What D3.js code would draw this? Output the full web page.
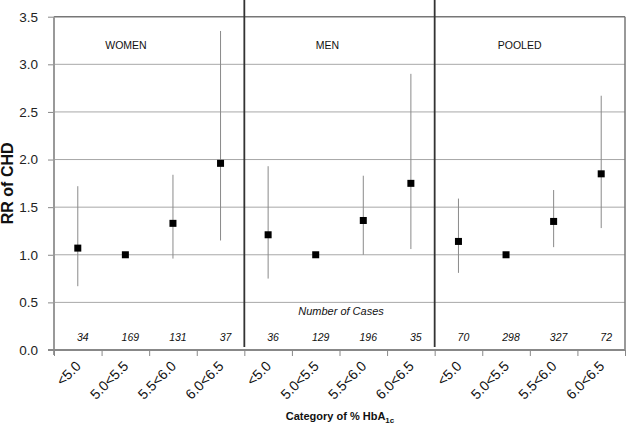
<!DOCTYPE html>
<html>
<head>
<meta charset="utf-8">
<script src="https://cdn.jsdelivr.net/npm/d3@7"></script>
<style>
  body { margin: 0; background: #fff; }
  svg { display: block; font-family: "Liberation Sans", Arial, sans-serif; }
</style>
</head>
<body>
<div id="chart"></div>
<script>
// data
const groups = ['WOMEN', 'MEN', 'POOLED'];
const categories = ['<5.0', '5.0<5.5', '5.5<6.0', '6.0<6.5'];
const rr = [
  [1.07, 1.00, 1.33, 1.96],
  [1.21, 1.00, 1.36, 1.75],
  [1.14, 1.00, 1.35, 1.85],
];
const ciLow = [
  [0.67, null, 0.96, 1.15],
  [0.75, null, 1.00, 1.06],
  [0.81, null, 1.08, 1.28],
];
const ciHigh = [
  [1.72, null, 1.84, 3.35],
  [1.93, null, 1.83, 2.90],
  [1.59, null, 1.68, 2.67],
];
const cases = [
  [34, 169, 131, 37],
  [36, 129, 196, 35],
  [70, 298, 327, 72],
];
const yTicks = [0, 0.5, 1.0, 1.5, 2.0, 2.5, 3.0, 3.5];

const W = 626, H = 424;
const mLeft = 54, mRight = 625, mTop = 16.7, mBottom = 350;

const rows = [];
groups.forEach((g, gi) => categories.forEach((c, ci) => {
  rows.push({ key: g + '|' + c, group: g, gi, cat: c, rr: rr[gi][ci], lo: ciLow[gi][ci], hi: ciHigh[gi][ci], n: cases[gi][ci] });
}));

const x = d3.scaleBand().domain(rows.map(d => d.key)).range([mLeft, mRight]).padding(0);
const xi = d3.scaleLinear().domain([0, rows.length]).range([mLeft, mRight]);
const y = d3.scaleLinear().domain([0, 3.5]).range([mBottom, mTop]);

const svg = d3.select('#chart').append('svg').attr('width', W).attr('height', H);

// gridlines
svg.append('g').selectAll('line').data(yTicks.slice(1, -1)).enter().append('line')
  .attr('x1', mLeft).attr('x2', mRight)
  .attr('y1', d => y(d)).attr('y2', d => y(d))
  .attr('stroke', '#a8a8a8').attr('stroke-width', 1);

// top and right border
svg.append('line').attr('x1', mLeft).attr('x2', mRight).attr('y1', y(3.5)).attr('y2', y(3.5))
  .attr('stroke', '#777').attr('stroke-width', 1.5);
svg.append('line').attr('x1', mRight).attr('x2', mRight).attr('y1', y(3.5)).attr('y2', y(0))
  .attr('stroke', '#777').attr('stroke-width', 1.5);

// y axis
const yAxis = svg.append('g').attr('transform', `translate(${mLeft},0)`)
  .call(d3.axisLeft(y).tickValues(yTicks).tickFormat(d3.format('.1f')).tickSize(6).tickPadding(10));
yAxis.select('.domain').remove();
yAxis.selectAll('.tick line').attr('stroke', '#888');
yAxis.selectAll('.tick text').attr('font-size', 13.5).attr('fill', '#222').attr('font-family', 'Liberation Sans, Arial, sans-serif');
svg.append('line').attr('x1', mLeft).attr('x2', mLeft).attr('y1', y(3.5)).attr('y2', y(0) + 5)
  .attr('stroke', '#999').attr('stroke-width', 2);

// x axis with ticks on category boundaries
const xAxis = svg.append('g').attr('transform', `translate(0,${mBottom})`)
  .call(d3.axisBottom(xi).tickValues(d3.range(rows.length + 1)).tickFormat('').tickSize(6));
xAxis.select('.domain').remove();
xAxis.selectAll('.tick line').attr('stroke', '#888');
svg.append('line').attr('x1', mLeft - 6).attr('x2', mRight).attr('y1', mBottom).attr('y2', mBottom)
  .attr('stroke', '#888').attr('stroke-width', 2);

// panel dividers
svg.append('g').selectAll('line').data(d3.range(1, groups.length)).enter().append('line')
  .attr('x1', d => xi(d * categories.length)).attr('x2', d => xi(d * categories.length))
  .attr('y1', 0).attr('y2', mBottom - 3)
  .attr('stroke', '#333').attr('stroke-width', 1.8);

// x tick labels
svg.append('g').selectAll('text').data(rows).enter().append('text')
  .attr('transform', d => `translate(${x(d.key) + x.bandwidth() / 2 + 4},${mBottom + 17}) rotate(-45)`)
  .attr('text-anchor', 'end')
  .attr('font-size', 14).attr('fill', '#111')
  .text(d => d.cat);

// panel labels
svg.append('g').selectAll('text').data(groups).enter().append('text')
  .attr('x', (d, i) => xi(i * categories.length) + [72, 83, 85][i])
  .attr('y', 49)
  .attr('text-anchor', 'middle').attr('font-size', 10.5).attr('fill', '#111')
  .text(d => d);

// number of cases
svg.append('text').attr('x', 341).attr('y', 315).attr('text-anchor', 'middle')
  .attr('font-size', 11).attr('font-style', 'italic').attr('fill', '#111')
  .text('Number of Cases');
svg.append('g').selectAll('text').data(rows).enter().append('text')
  .attr('x', d => x(d.key) + x.bandwidth() / 2 + 5)
  .attr('y', 340.5)
  .attr('text-anchor', 'middle').attr('font-size', 10.5).attr('font-style', 'italic').attr('fill', '#111')
  .text(d => d.n);

// error bars
svg.append('g').selectAll('line').data(rows.filter(d => d.lo != null)).enter().append('line')
  .attr('x1', d => x(d.key) + x.bandwidth() / 2).attr('x2', d => x(d.key) + x.bandwidth() / 2)
  .attr('y1', d => y(d.hi)).attr('y2', d => y(d.lo))
  .attr('stroke', '#8a8a8a').attr('stroke-width', 1);

// points
const s = 7;
svg.append('g').selectAll('rect').data(rows).enter().append('rect')
  .attr('x', d => x(d.key) + x.bandwidth() / 2 - s / 2)
  .attr('y', d => y(d.rr) - s / 2)
  .attr('width', s).attr('height', s)
  .attr('fill', '#000');

// axis titles
svg.append('text')
  .attr('transform', `translate(13,${(mTop + mBottom) / 2}) rotate(-90)`)
  .attr('text-anchor', 'middle').attr('font-size', 16).attr('font-weight', 'bold').attr('fill', '#111')
  .text('RR of CHD');

const xt = svg.append('text').attr('x', 340).attr('y', 420)
  .attr('text-anchor', 'middle').attr('font-size', 11).attr('font-weight', 'bold').attr('fill', '#111');
xt.append('tspan').text('Category of % HbA');
xt.append('tspan').attr('dy', 3).attr('font-size', 8).text('1c');
</script>
</body>
</html>
